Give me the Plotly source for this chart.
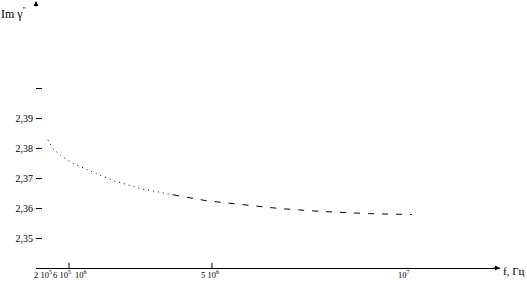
import plotly.graph_objects as go

# position along the drawn frequency axis (axis units) and Im gamma'' values
f_pos = [0.82, 0.95, 1.19, 1.47, 2.14, 2.53, 3.20, 4.05, 4.92, 5.64, 6.80, 7.91, 8.48, 9.12, 10.2]
im_gamma = [2.3829, 2.3799, 2.3773, 2.3750, 2.3712, 2.3692, 2.3666, 2.3645, 2.3625,
            2.3615, 2.3599, 2.3589, 2.3585, 2.3582, 2.3579]

x_tickvals = [0.683, 1.186, 1.662, 5.0, 10.0]
x_ticktext = ["2 10<sup>5</sup>", "6 10<sup>5</sup>", "10<sup>6</sup>", "5 10<sup>6</sup>", "10<sup>7</sup>"]
x_tickmarks = [1.366, 5.05]

y_tickvals = [2.35, 2.36, 2.37, 2.38, 2.39, 2.40]
y_ticktext = ["2,35", "2,36", "2,37", "2,38", "2,39", ""]

FONT = "Liberation Serif, Times New Roman, serif"

fig = go.Figure()
split = 8
fig.add_trace(go.Scatter(x=f_pos[:split], y=im_gamma[:split], mode="lines",
                         line=dict(color="black", width=1, dash="1px,4px"),
                         showlegend=False, hoverinfo="skip"))
fig.add_trace(go.Scatter(x=f_pos[split - 1:], y=im_gamma[split - 1:], mode="lines",
                         line=dict(color="black", width=1, dash="6px,8px"),
                         showlegend=False, hoverinfo="skip"))

for xv in x_tickmarks:
    fig.add_shape(type="line", xref="x", yref="paper", x0=xv, x1=xv, y0=0, y1=0.02,
                  line=dict(color="black", width=1))

for xv, txt in zip(x_tickvals, x_ticktext):
    fig.add_annotation(xref="x", yref="paper", x=xv, y=-0.026, xanchor="center", yanchor="middle",
                       text=txt, showarrow=False, borderpad=0,
                       font=dict(family=FONT, size=8.5, color="black"))

fig.add_annotation(xref="paper", yref="paper", x=1.0, y=0, ax=-8, ay=0,
                   showarrow=True, arrowhead=2, arrowsize=1, arrowwidth=1, arrowcolor="black", text="")
fig.add_annotation(xref="paper", yref="paper", x=0, y=1.015, ax=0, ay=8,
                   showarrow=True, arrowhead=2, arrowsize=1, arrowwidth=1, arrowcolor="black", text="")
fig.add_annotation(xref="paper", yref="paper", x=-0.078, y=0.965, xanchor="left", yanchor="middle",
                   text="Im γ<sup>''</sup>", showarrow=False, borderpad=0,
                   font=dict(family=FONT, size=12, color="black"))
fig.add_annotation(xref="paper", yref="paper", x=1.056, y=-0.012, xanchor="right", yanchor="middle",
                   text="f, Гц", showarrow=False, borderpad=0,
                   font=dict(family=FONT, size=11, color="black"))

fig.update_layout(
    width=527, height=284,
    margin=dict(l=36, r=27, t=4, b=16, autoexpand=False),
    paper_bgcolor="white", plot_bgcolor="white",
    font=dict(family=FONT, size=10, color="black"),
    xaxis=dict(range=[0.515, 12.474], showgrid=False, zeroline=False, showline=True,
               linecolor="black", linewidth=1, ticks="", showticklabels=False, automargin=False),
    yaxis=dict(range=[2.34, 2.4284], showgrid=False, zeroline=False, showline=False,
               ticks="inside", ticklen=6, tickcolor="black", tickwidth=1,
               tickvals=y_tickvals, ticktext=y_ticktext, ticklabelstandoff=2,
               tickfont=dict(family=FONT, size=10, color="black"), automargin=False),
)

fig.write_html("out.html", config={"displayModeBar": False},
               post_script="document.body.style.margin='0';")
